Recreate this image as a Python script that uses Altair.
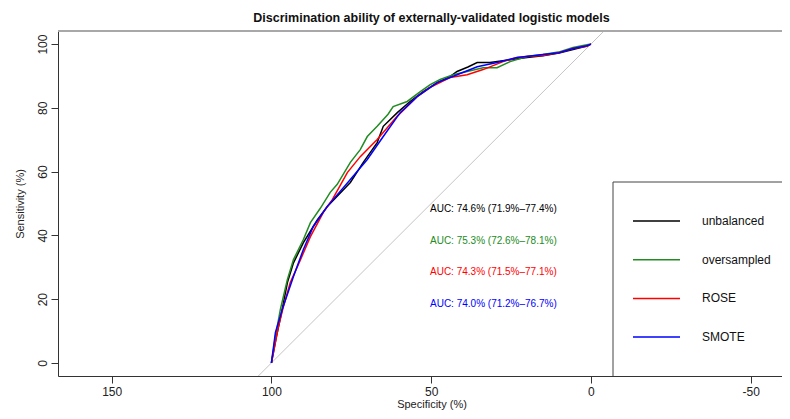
import altair as alt
import pandas as pd

series = ["unbalanced", "oversampled", "ROSE", "SMOTE"]
colors = ["#000000", "#228B22", "#FF0000", "#0000FF"]
auc_labels = [
    "AUC: 74.6% (71.9%–77.4%)",
    "AUC: 75.3% (72.6%–78.1%)",
    "AUC: 74.3% (71.5%–77.1%)",
    "AUC: 74.0% (71.2%–76.7%)",
]

unbalanced_spec = [100, 98.5, 97, 95, 93.1, 90, 85.6, 82.5, 75.3, 71.25, 66.9, 65, 60.6, 56.6, 52.5, 48.1, 44.1, 41.9, 38.5, 35.6, 31.6, 25.3, 20, 15, 10, 5.6, 1.25, 0]
unbalanced_sens = [0, 8, 15, 25.2, 31.4, 37.7, 44.9, 49.1, 56.6, 62.9, 69.1, 74.2, 78.5, 82, 85.1, 87.9, 89.8, 91.4, 92.8, 94.2, 94.2, 95.1, 95.8, 96.3, 97.2, 98.3, 99.4, 100]

oversampled_spec = [100, 98.8, 97.2, 95, 93.1, 90, 87.8, 84.7, 81.6, 79.4, 75.3, 72.2, 70, 66.9, 63.5, 61.9, 57.5, 53.4, 50.3, 47.2, 43.1, 38.75, 33.75, 29.4, 25.3, 20, 15, 9.7, 5.6, 1.25, 0]
oversampled_sens = [0, 8, 16.8, 26.2, 32.4, 38.7, 44, 48.5, 53.5, 56, 62.9, 66.9, 71, 74.2, 78, 80.4, 82, 85.1, 87.3, 88.9, 90.4, 91.4, 92.6, 92.6, 94.5, 96.1, 96.7, 97.6, 98.9, 99.8, 100]

rose_spec = [100, 97.8, 96.25, 94.1, 90.9, 87.8, 83.75, 80.9, 76.25, 72.2, 66.9, 60.6, 54.4, 50.3, 44.1, 38.75, 33.75, 27.5, 23.1, 20, 15, 10, 5.6, 1.25, 0]
rose_sens = [0, 11.4, 17.7, 25.2, 32.4, 39.6, 47.2, 51.3, 59.7, 64.7, 70.1, 77.4, 83.5, 86.4, 89.5, 90.4, 92, 94.5, 95.8, 96.1, 96.4, 97.3, 98.6, 99.3, 100]

smote_spec = [100, 98.75, 96.6, 93.1, 90, 86.9, 82.5, 75.3, 70, 65, 59.7, 54.4, 48.1, 41.9, 35.6, 29.4, 23.1, 15, 10, 5.6, 1.25, 0]
smote_sens = [0, 9.6, 16.8, 27.1, 35.6, 42.8, 49.1, 57.5, 63.8, 71, 78.5, 83.5, 87.9, 90.4, 92.9, 94.2, 95.8, 96.7, 97.3, 98.6, 99.5, 100]

diag_spec = [110, -10]
diag_sens = [-10, 110]

x_ticks = [150, 100, 50, 0, -50]
y_ticks = [0, 20, 40, 60, 80, 100]

FONT = "Liberation Sans"
W, H = 724, 345

x_scale = alt.Scale(domain=[-59.8, 166.8], reverse=True, nice=False, zero=False)
y_scale = alt.Scale(domain=[-4.1, 104.1], nice=False, zero=False)

x_axis = alt.Axis(
    values=x_ticks, labelExpr="'' + datum.value", title="Specificity (%)",
    grid=False, domainColor="#333333", tickColor="#333333", tickSize=7,
    labelFont=FONT, labelFontSize=12, labelColor="#222222", labelPadding=3,
    titleFont=FONT, titleFontSize=11, titleFontWeight="normal", titleColor="#222222",
    titleX=373.5, titleY=28, titleBaseline="middle", titleAnchor="middle",
    labelFlush=False, labelOverlap=False,
)
y_axis = alt.Axis(
    values=y_ticks, title="Sensitivity (%)",
    grid=False, domainColor="#333333", tickColor="#333333", tickSize=7,
    labelFont=FONT, labelFontSize=12, labelColor="#222222", labelPadding=2,
    labelAngle=270, labelAlign="center", labelBaseline="bottom",
    titleFont=FONT, titleFontSize=11, titleFontWeight="normal", titleColor="#222222",
    titleAngle=270, titleX=-38, titleY=172.5, titleBaseline="middle", titleAlign="center",
    labelFlush=False, labelOverlap=False,
)

def xenc():
    return alt.X("spec:Q", scale=x_scale, axis=x_axis)

def yenc():
    return alt.Y("sens:Q", scale=y_scale, axis=y_axis)

layers = []

diag_df = pd.DataFrame({"spec": diag_spec, "sens": diag_sens, "i": [0, 1]})
layers.append(
    alt.Chart(diag_df).mark_line(color="#C4C4C4", strokeWidth=1, clip=True).encode(
        x=xenc(), y=yenc(), order=alt.Order("i:Q")
    )
)

curves = [
    (unbalanced_spec, unbalanced_sens),
    (oversampled_spec, oversampled_sens),
    (rose_spec, rose_sens),
    (smote_spec, smote_sens),
]
for k, (sp, se) in enumerate(curves):
    df = pd.DataFrame({"spec": sp, "sens": se, "i": list(range(len(sp))), "series": series[k]})
    layers.append(
        alt.Chart(df).mark_line(color=colors[k], strokeWidth=1.5, clip=True).encode(
            x=xenc(), y=yenc(), order=alt.Order("i:Q")
        )
    )

# top frame line
layers.append(
    alt.Chart(pd.DataFrame({"a": [0]})).mark_rule(color="#A8A8A8", strokeWidth=2).encode(
        x=alt.value(0), x2=alt.value(W), y=alt.value(0)
    )
)

# AUC texts
for k in range(4):
    layers.append(
        alt.Chart(pd.DataFrame({"label": [auc_labels[k]]})).mark_text(
            align="left", baseline="middle", font=FONT, fontSize=10, color=colors[k]
        ).encode(text="label:N", x=alt.value(372), y=alt.value(178 + 31.7 * k))
    )

# legend box (open on the right, running past the plot edge)
layers.append(
    alt.Chart(pd.DataFrame({"a": [0]})).mark_rule(color="#444444", strokeWidth=1).encode(
        x=alt.value(555), y=alt.value(151), y2=alt.value(H)
    )
)
layers.append(
    alt.Chart(pd.DataFrame({"a": [0]})).mark_rule(color="#444444", strokeWidth=1).encode(
        x=alt.value(555), x2=alt.value(W), y=alt.value(151)
    )
)
for k in range(4):
    py = 190 + 38.7 * k
    layers.append(
        alt.Chart(pd.DataFrame({"a": [0]})).mark_rule(color=colors[k], strokeWidth=1.5).encode(
            x=alt.value(575), x2=alt.value(622), y=alt.value(py)
        )
    )
    layers.append(
        alt.Chart(pd.DataFrame({"label": [series[k]]})).mark_text(
            align="left", baseline="middle", font=FONT, fontSize=12, color="#111111"
        ).encode(text="label:N", x=alt.value(644), y=alt.value(py))
    )

chart = alt.layer(*layers).properties(
    width=W, height=H,
    autosize=alt.AutoSizeParams(type="none"),
    padding={"left": 50, "top": 23, "right": 0, "bottom": 35},
    title=alt.TitleParams(
        "Discrimination ability of externally-validated logistic models",
        font=FONT, fontSize=12.5, fontWeight="bold", color="#111111",
        anchor="middle", dx=11.5, offset=6,
    ),
).configure_view(strokeWidth=0).configure(background="white")

chart.save("out.html", embed_options={"renderer": "svg", "actions": False})
